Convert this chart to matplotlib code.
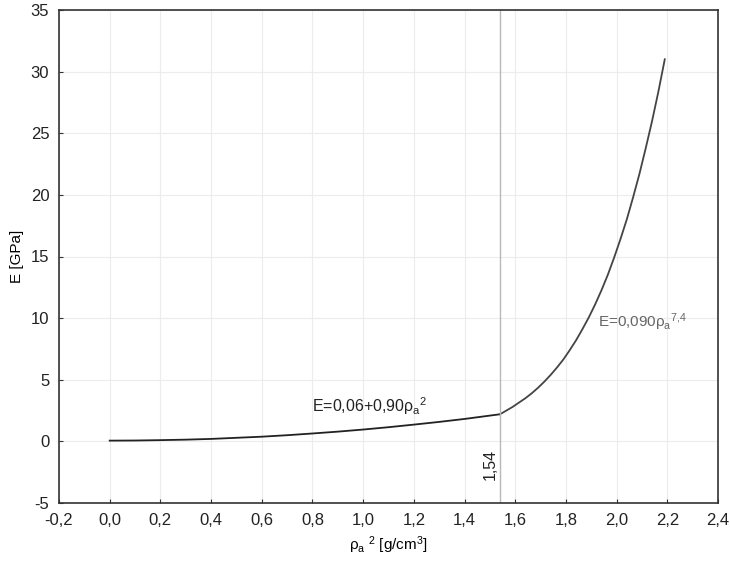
import matplotlib
matplotlib.use('Agg')
import matplotlib.pyplot as plt
import numpy as np

plt.rcParams['font.family'] = ['Liberation Sans', 'DejaVu Sans']
plt.rcParams['mathtext.fontset'] = 'custom'
plt.rcParams['mathtext.rm'] = 'Liberation Sans'
plt.rcParams['mathtext.it'] = 'Liberation Sans'

# values
rho_low = [0.0, 0.1, 0.2, 0.3, 0.4, 0.5, 0.6, 0.7, 0.8, 0.9, 1.0, 1.1, 1.2, 1.3, 1.4, 1.54]
E_low = [0.06, 0.07, 0.1, 0.14, 0.2, 0.29, 0.38, 0.5, 0.64, 0.79, 0.96, 1.15, 1.36, 1.58, 1.82, 2.2]
rho_high = [1.54, 1.565, 1.59, 1.615, 1.64, 1.665, 1.69, 1.715, 1.74, 1.765, 1.79, 1.815,
            1.84, 1.865, 1.89, 1.915, 1.94, 1.965, 1.99, 2.015, 2.04, 2.065, 2.09, 2.115,
            2.14, 2.165, 2.19]
E_high = [2.2, 2.5, 2.8, 3.15, 3.5, 3.9, 4.35, 4.85, 5.4, 6.0, 6.65, 7.4,
          8.2, 9.1, 10.05, 11.1, 12.25, 13.5, 14.9, 16.4, 18.0, 19.8, 21.7, 23.8,
          26.0, 28.4, 31.0]
rho_split = 1.54
xticks = [-0.2, 0.0, 0.2, 0.4, 0.6, 0.8, 1.0, 1.2, 1.4, 1.6, 1.8, 2.0, 2.2, 2.4]
yticks = [-5, 0, 5, 10, 15, 20, 25, 30, 35]

fig = plt.figure(figsize=(7.3, 5.63), dpi=100)
ax = fig.add_axes([59/730, 60/563, 659/730, 493/563])

ax.plot(rho_low, E_low, color='#222222', lw=1.3)
ax.plot(rho_high, E_high, color='#444444', lw=1.3)
ax.axvline(rho_split, color='#b8b8b8', lw=1.0)

ax.set_xlim(-0.2, 2.4)
ax.set_ylim(-5, 35)
ax.set_xticks(xticks)
ax.set_yticks(yticks)
ax.set_xticklabels([f'{t:.1f}'.replace('.', ',') for t in xticks])
ax.set_yticklabels([str(t) for t in yticks])
ax.grid(True, color='#ececec', lw=0.8)
ax.tick_params(direction='in', length=3, labelsize=12, color='#333333', pad=7,
               labelcolor='#222222')
for s in ax.spines.values():
    s.set_color('#333333')
    s.set_linewidth(1.2)

ax.text(0.80, 2.35, r'E=0,06+0,90$\rho_\mathregular{a}$$^\mathregular{2}$', fontsize=11.5, color='#222222')
ax.text(1.925, 9.3, r'E=0,090$\rho_\mathregular{a}$$^\mathregular{7{,}4}$', fontsize=11, color='#666666')
ax.text(1.50, -1.9, '1,54', rotation=90, fontsize=11.5, color='#222222', ha='center', va='center')

ax.set_xlabel(r'$\rho_\mathregular{a}$ $^\mathregular{2}$ [g/cm$^\mathregular{3}$]', fontsize=11, labelpad=5)
ax.set_ylabel('E [GPa]', fontsize=11, labelpad=5)

fig.savefig('out.png', dpi=100)
